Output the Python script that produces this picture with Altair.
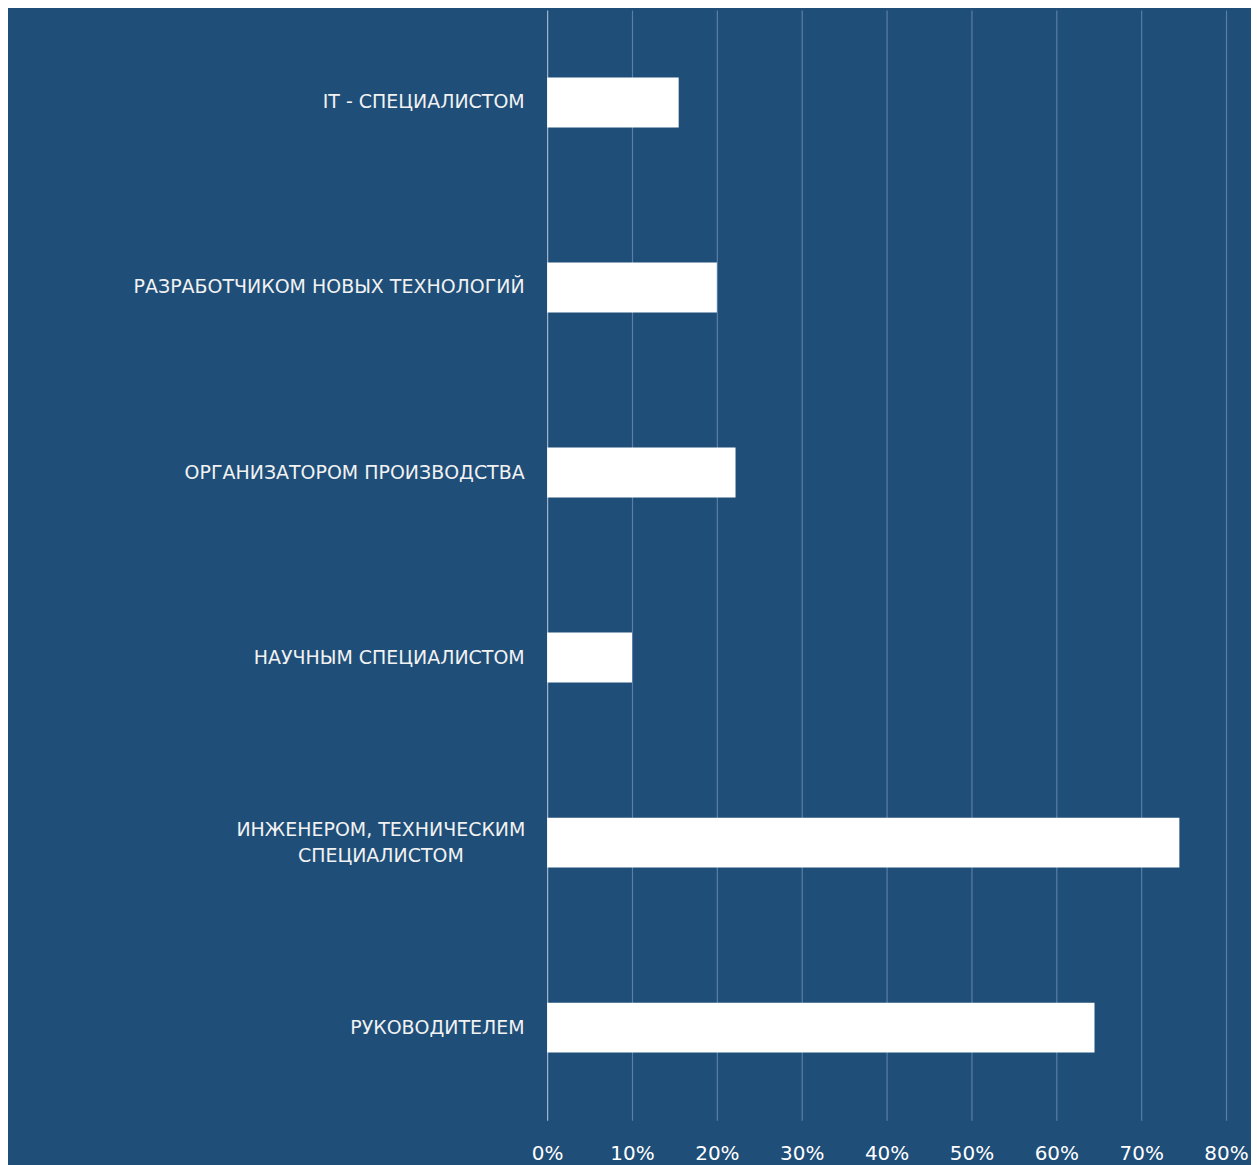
import altair as alt
import pandas as pd

categories = [
    "IT - СПЕЦИАЛИСТОМ",
    "РАЗРАБОТЧИКОМ НОВЫХ ТЕХНОЛОГИЙ",
    "ОРГАНИЗАТОРОМ ПРОИЗВОДСТВА",
    "НАУЧНЫМ СПЕЦИАЛИСТОМ",
    "ИНЖЕНЕРОМ, ТЕХНИЧЕСКИМ\nСПЕЦИАЛИСТОМ",
    "РУКОВОДИТЕЛЕМ",
]
values = [0.155, 0.20, 0.222, 0.10, 0.745, 0.645]
x_ticks = [0.0, 0.1, 0.2, 0.3, 0.4, 0.5, 0.6, 0.7, 0.8]

df = pd.DataFrame({"category": categories, "value": values})

BG = "#1f4e79"
MULTI = "length(split(datum.value, '\\n')) > 1"

chart = (
    alt.Chart(df)
    .mark_bar(color="#ffffff", size=50)
    .encode(
        x=alt.X(
            "value:Q",
            scale=alt.Scale(domain=[0, 0.8], nice=False),
            axis=alt.Axis(
                format=".0%",
                values=x_ticks,
                title=None,
                domain=False,
                ticks=False,
                labelFlush=False,
                labelPadding=23,
                labelFontSize=20,
                labelFont="DejaVu Sans",
                labelColor="#ffffff",
                labelBaseline="top",
                gridColor={
                    "condition": {"test": "datum.value === 0", "value": "#a3b6ca"},
                    "value": "#5a7ea6",
                },
                gridOpacity=1,
                gridWidth=1.2,
            ),
        ),
        y=alt.Y(
            "category:N",
            sort=categories,
            axis=alt.Axis(
                title=None,
                domain=False,
                ticks=False,
                grid=False,
                labelPadding={
                    "condition": {"test": MULTI, "value": 167},
                    "value": 23,
                },
                labelAlign={
                    "condition": {"test": MULTI, "value": "center"},
                    "value": "right",
                },
                labelOffset={
                    "condition": {"test": MULTI, "value": -13},
                    "value": 0,
                },
                labelFontSize=19,
                labelFont="DejaVu Sans",
                labelColor="#f2f2f2",
                labelExpr="split(datum.label, '\\n')",
                labelLineHeight=26,
                labelLimit=600,
            ),
        ),
    )
    .properties(
        width=680,
        height=1112,
        background=BG,
        padding={"left": 540, "top": 1, "right": 25, "bottom": 50},
        autosize=alt.AutoSizeParams(type="none"),
    )
    .configure_view(stroke=None)
)

chart.save("out.html", embed_options={"renderer": "svg", "actions": False})
